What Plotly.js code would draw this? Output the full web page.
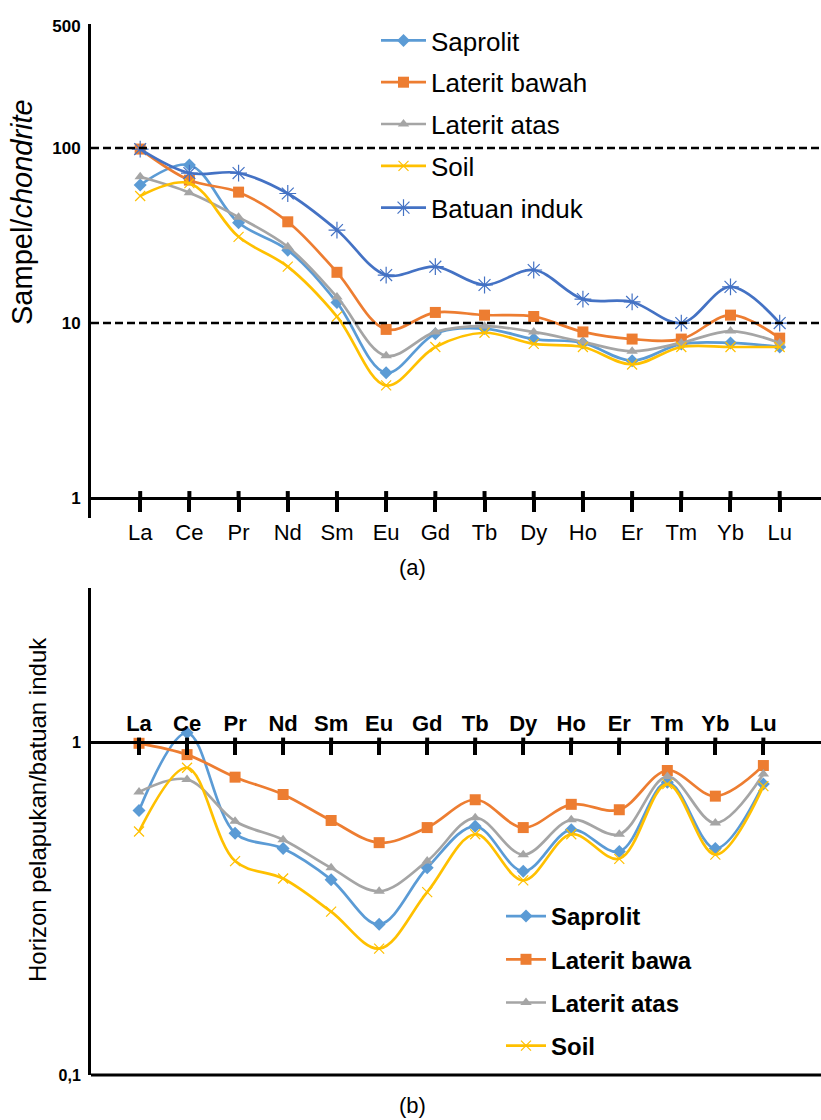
<!DOCTYPE html>
<html><head><meta charset="utf-8">
<script src="https://cdn.plot.ly/plotly-3.0.1.min.js"></script>
<style>html,body{margin:0;padding:0;background:#fff}#chart{width:821px;height:1120px}</style>
</head><body><div id="chart"></div>
<script>
const elements = ['La','Ce','Pr','Nd','Sm','Eu','Gd','Tb','Dy','Ho','Er','Tm','Yb','Lu'];

// (a) Sampel / chondrite
const saprolitA      = [61.5, 80, 37.4, 26.1, 13.1, 5.2, 8.7, 9.3, 8.1, 7.7, 6.1, 7.6, 7.7, 7.3];
const lateritBawahA  = [98.7, 65.6, 56, 37.9, 19.5, 9.2, 11.5, 11.1, 10.9, 8.9, 8.1, 8.1, 11.1, 8.2];
const lateritAtasA   = [68.5, 55.6, 40.3, 27.3, 14.1, 6.5, 8.9, 9.6, 8.9, 7.8, 6.9, 7.7, 9.0, 7.7];
const soilA          = [53.2, 63, 31.1, 21, 10.9, 4.4, 7.3, 8.8, 7.6, 7.3, 5.8, 7.3, 7.3, 7.3];
const batuanIndukA   = [98.7, 72, 72, 55, 34, 18.8, 21, 16.5, 20.1, 13.7, 13.2, 10, 16.1, 10];

// (b) Horizon pelapukan / batuan induk
const saprolitB      = [0.625, 1.07, 0.534, 0.48, 0.387, 0.284, 0.42, 0.56, 0.41, 0.547, 0.47, 0.76, 0.48, 0.75];
const lateritBawahB  = [0.995, 0.92, 0.787, 0.698, 0.583, 0.50, 0.555, 0.673, 0.555, 0.652, 0.628, 0.824, 0.69, 0.853];
const lateritAtasB   = [0.71, 0.775, 0.58, 0.51, 0.42, 0.357, 0.44, 0.594, 0.46, 0.586, 0.53, 0.79, 0.573, 0.805];
const soilB          = [0.54, 0.84, 0.44, 0.39, 0.31, 0.24, 0.355, 0.53, 0.385, 0.53, 0.447, 0.75, 0.46, 0.74];

const namesA = ['Saprolit', 'Laterit bawah', 'Laterit atas', 'Soil', 'Batuan induk'];
const namesB = ['Saprolit', 'Laterit bawa', 'Laterit atas', 'Soil'];
const yTicksA = [1, 10, 100, 500];
const yTickTextA = ['1', '10', '100', '500'];
const yTicksB = [0.1, 1];
const yTickTextB = ['0,1', '1'];
const refLinesA = [10, 100];
const crossValue = 1;

const FONT = 'Liberation Sans, Arial, sans-serif';
const W = 821, H = 1120;
const px = v => v / W;
const py = v => 1 - v / H;

const styles = [
  {color: '#5B9BD5', symbol: 'diamond', size: 10, lw: 0},
  {color: '#ED7D31', symbol: 'square', size: 11, lw: 0},
  {color: '#A5A5A5', symbol: 'triangle-up', size: 10, lw: 0},
  {color: '#FFC000', symbol: 'x-thin', size: 10, lw: 1.2},
  {color: '#4472C4', symbol: 'asterisk', size: 14, lw: 1.2}
];

function mk(name, y, st, xa, ya, leg, grp) {
  const m = {symbol: st.symbol, size: st.size, color: st.color};
  if (st.lw) m.line = {color: st.color, width: st.lw};
  return {
    type: 'scatter', mode: 'lines+markers', name: name,
    x: elements, y: y, xaxis: xa, yaxis: ya,
    line: {color: st.color, width: 2.7, shape: 'spline', smoothing: 1},
    marker: m, legend: leg, legendgroup: grp
  };
}

const seriesA = [saprolitA, lateritBawahA, lateritAtasA, soilA, batuanIndukA];
const seriesB = [saprolitB, lateritBawahB, lateritAtasB, soilB];
const data = [];
seriesA.forEach((s, i) => data.push(mk(namesA[i], s, styles[i], 'x', 'y', 'legend', 'a' + i)));
seriesB.forEach((s, i) => data.push(mk(namesB[i], s, styles[i], 'x2', 'y2', 'legend2', 'b' + i)));

const xDom = [px(91), 1];
const rangeA = [-1, 13.84];
const rangeB = [-1, 14.2];

const shapes = [];
refLinesA.forEach(v => shapes.push({
  type: 'line', xref: 'x domain', yref: 'y', x0: 0, x1: 1, y0: v, y1: v,
  line: {color: '#000', width: 2.5, dash: '8px,4px'}
}));
// tick marks crossing the axis line: the part on the other side of the axis
elements.forEach(e => shapes.push({
  type: 'line', xref: 'x', yref: 'y', ysizemode: 'pixel', yanchor: crossValue,
  x0: e, x1: e, y0: 0, y1: 7, line: {color: '#000', width: 4}
}));
elements.forEach(e => shapes.push({
  type: 'line', xref: 'x2', yref: 'y2', ysizemode: 'pixel', yanchor: crossValue,
  x0: e, x1: e, y0: 0, y1: 5, line: {color: '#000', width: 4}
}));
// bottom frame line of chart (b)
shapes.push({
  type: 'line', xref: 'x2 domain', yref: 'y2 domain', x0: 0, x1: 1, y0: 0, y1: 0,
  line: {color: '#000', width: 3}
});

const layout = {
  width: W, height: H,
  margin: {l: 0, r: 0, t: 0, b: 0},
  paper_bgcolor: '#fff', plot_bgcolor: 'rgba(0,0,0,0)',
  font: {family: FONT, color: '#000'},
  showlegend: true,
  xaxis: {
    type: 'category', domain: xDom, range: rangeA, anchor: 'free', position: py(498),
    showline: true, linecolor: '#000', linewidth: 3, showgrid: false, zeroline: false,
    ticks: 'outside', ticklen: 12, tickwidth: 4, tickcolor: '#000',
    tickfont: {size: 22, family: FONT, color: '#000'}, ticklabelstandoff: 2
  },
  yaxis: {
    type: 'log', domain: [py(518), py(24)], range: [-0.114, 2.709], anchor: 'x',
    showline: true, linecolor: '#000', linewidth: 3, showgrid: false, zeroline: false,
    ticks: '', tickmode: 'array', tickvals: yTicksA, ticktext: yTickTextA,
    tickfont: {size: 17, family: FONT, color: '#000', weight: 'bold'}, ticklabelstandoff: 4
  },
  xaxis2: {
    type: 'category', domain: xDom, range: rangeB, anchor: 'free', position: py(742),
    side: 'top', showline: true, linecolor: '#000', linewidth: 3, showgrid: false, zeroline: false,
    ticks: 'inside', ticklen: 11, tickwidth: 4, tickcolor: '#000',
    tickfont: {size: 22, family: FONT, color: '#000', weight: 'bold'}, ticklabelstandoff: 1
  },
  yaxis2: {
    type: 'log', domain: [py(1075), py(588)], range: [-1, 0.465], anchor: 'x2',
    showline: true, linecolor: '#000', linewidth: 3, showgrid: false, zeroline: false,
    ticks: '', tickmode: 'array', tickvals: yTicksB, ticktext: yTickTextB,
    tickfont: {size: 16, family: FONT, color: '#000', weight: 'bold'}, ticklabelstandoff: 4
  },
  legend: {
    x: px(376), y: py(17), xanchor: 'left', yanchor: 'top',
    bgcolor: 'rgba(0,0,0,0)', borderwidth: 0,
    font: {size: 26, family: FONT, color: '#000'},
    tracegroupgap: 5, itemwidth: 45
  },
  legend2: {
    x: px(501), y: py(894), xanchor: 'left', yanchor: 'top',
    bgcolor: 'rgba(0,0,0,0)', borderwidth: 0,
    font: {size: 24, family: FONT, color: '#000', weight: 'bold'},
    tracegroupgap: 9, itemwidth: 40
  },
  shapes: shapes,
  annotations: [
    {text: '(a)', xref: 'paper', yref: 'paper', x: px(412), y: py(567), showarrow: false,
     font: {size: 22, family: FONT, color: '#000'}, xanchor: 'center', yanchor: 'middle'},
    {text: '(b)', xref: 'paper', yref: 'paper', x: px(412), y: py(1105), showarrow: false,
     font: {size: 22, family: FONT, color: '#000'}, xanchor: 'center', yanchor: 'middle'},
    {text: 'Sampel/<i>chondrite</i>', xref: 'paper', yref: 'paper', x: px(22), y: py(212),
     textangle: -90, showarrow: false, font: {size: 29, family: FONT, color: '#000'},
     xanchor: 'center', yanchor: 'middle'},
    {text: 'Horizon pelapukan/batuan induk', xref: 'paper', yref: 'paper', x: px(37), y: py(810),
     textangle: -90, showarrow: false, font: {size: 24, family: FONT, color: '#000'},
     xanchor: 'center', yanchor: 'middle'}
  ]
};

Plotly.newPlot('chart', data, layout, {displayModeBar: false, staticPlot: true});
</script>
</body></html>
